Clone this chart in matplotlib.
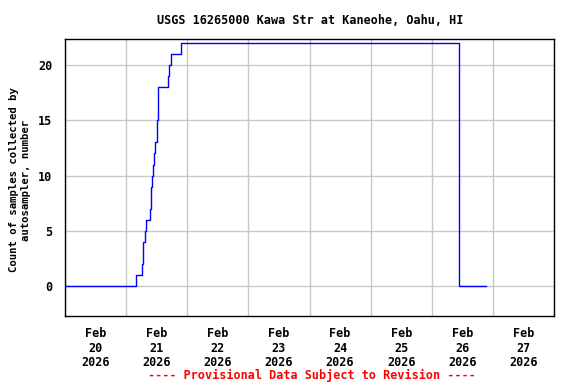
import matplotlib
matplotlib.use("Agg")
import matplotlib.pyplot as plt
import matplotlib.dates as mdates
import numpy as np

# sample counts (step series)
times = ["2026-02-20 00:00", "2026-02-21 04:00", "2026-02-21 06:20", "2026-02-21 06:45",
         "2026-02-21 07:35", "2026-02-21 07:45", "2026-02-21 09:30", "2026-02-21 09:45",
         "2026-02-21 10:10", "2026-02-21 10:35", "2026-02-21 11:05", "2026-02-21 11:25",
         "2026-02-21 12:00", "2026-02-21 12:30", "2026-02-21 16:20", "2026-02-21 16:50",
         "2026-02-21 17:30", "2026-02-21 21:40", "2026-02-26 10:50", "2026-02-26 21:10"]
counts = [0, 1, 2, 4, 5, 6, 7, 9, 10, 11, 12, 13, 15, 18, 19, 20, 21, 22, 0, 0]

day_labels = ["Feb\n20\n2026", "Feb\n21\n2026", "Feb\n22\n2026", "Feb\n23\n2026",
              "Feb\n24\n2026", "Feb\n25\n2026", "Feb\n26\n2026", "Feb\n27\n2026"]

title = "USGS 16265000 Kawa Str at Kaneohe, Oahu, HI"
ylabel = "Count of samples collected by\nautosampler, number"
note = "---- Provisional Data Subject to Revision ----"

font = "DejaVu Sans Mono"
fs = 8.5

t = np.array(times, dtype="datetime64[m]").astype("O")

fig = plt.figure(figsize=(5.76, 3.84), dpi=100)
ax = fig.add_axes([65 / 576, 1 - 316 / 384, 489 / 576, 277 / 384])

ax.plot(t, counts, drawstyle="steps-post", color="#0000ff", lw=1)

start = np.datetime64("2026-02-20T00:00")
ax.set_xlim(start.astype("O"), (start + np.timedelta64(8, "D")).astype("O"))
ax.set_ylim(-2.7, 22.35)

# grid at midnight, labels at noon
ax.xaxis.set_major_locator(mdates.DayLocator())
ax.xaxis.set_major_formatter(plt.NullFormatter())
ax.set_xticks([(start + np.timedelta64(12 + 24 * i, "h")).astype("O") for i in range(8)],
              day_labels, minor=True)
ax.set_yticks([0, 5, 10, 15, 20])
ax.grid(True, which="major", color="#c8c8c8", lw=1)
ax.set_axisbelow(True)
ax.tick_params(which="both", length=0)
ax.tick_params(axis="x", which="minor", pad=8)
ax.tick_params(axis="y", pad=9)
for lab in ax.get_xticklabels(minor=True) + ax.get_yticklabels():
    lab.set_fontfamily(font)
    lab.set_fontweight("bold")
    lab.set_fontsize(fs)
    lab.set_linespacing(1.15)
for s in ax.spines.values():
    s.set_linewidth(1)

ax.set_ylabel(ylabel, fontfamily=font, fontweight="bold", fontsize=7.7, linespacing=1.3)
ax.yaxis.set_label_coords(-34 / 489, 0.491)
fig.text(310 / 576, 1 - 20 / 384, title, ha="center", va="center",
         fontfamily=font, fontweight="bold", fontsize=fs)
fig.text(312 / 576, 1 - 375 / 384, note, ha="center", va="center",
         fontfamily=font, fontweight="bold", fontsize=fs, color="red")

fig.savefig("out.png", dpi=100)
